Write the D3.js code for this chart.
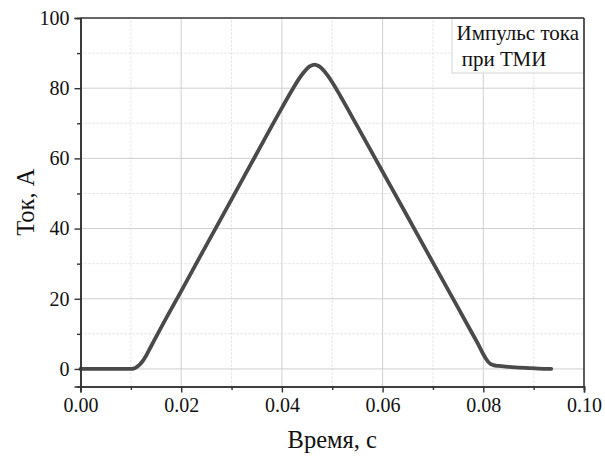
<!DOCTYPE html>
<html>
<head>
<meta charset="utf-8">
<script src="https://cdn.jsdelivr.net/npm/d3@7"></script>
<style>
  html, body { margin: 0; padding: 0; background: #fff; }
</style>
</head>
<body>
<svg id="chart" width="605" height="468"></svg>
<script>
// Current pulse: time (s) and current (A)
const timeValues = [0, 0.002, 0.004, 0.006, 0.008, 0.010, 0.0105, 0.011, 0.0115, 0.012, 0.013, 0.014,
  0.016, 0.020, 0.025, 0.030, 0.035, 0.040, 0.042, 0.043, 0.044, 0.045, 0.0455, 0.046, 0.0465,
  0.047, 0.0475, 0.048, 0.049, 0.050, 0.051, 0.052, 0.055, 0.060, 0.065, 0.070, 0.075, 0.078, 0.079,
  0.080, 0.0805, 0.081, 0.0815, 0.082, 0.083, 0.085, 0.087, 0.089, 0.091, 0.0935];
const currentValues = [0, 0, 0, 0, 0, 0, 0.1, 0.4, 0.9, 1.6, 3.7, 6.4,
  11.8, 22.2, 35.3, 48.3, 61.4, 74.4, 79.4, 81.8, 83.9, 85.6, 86.2, 86.55, 86.7,
  86.5, 86.15, 85.5, 83.8, 81.7, 79.3, 76.8, 69.1, 56.2, 43.3, 30.3, 17.4, 9.6, 7.0,
  4.2, 3.0, 2.0, 1.4, 1.1, 0.85, 0.6, 0.4, 0.25, 0.12, 0.05];

const xTicks = [0, 0.02, 0.04, 0.06, 0.08, 0.10];
const xMinorTicks = [0.01, 0.03, 0.05, 0.07, 0.09];
const yTicks = [0, 20, 40, 60, 80, 100];
const yMinorTicks = [10, 30, 50, 70, 90];
const legendLines = ["Импульс тока", " при ТМИ"];
const xTitle = "Время, с";
const yTitle = "Ток, А";

const FONT = "'Liberation Serif', 'Times New Roman', Times, serif";

const svg = d3.select("#chart");
const margin = { left: 80.5, top: 18, right: 21, bottom: 81.5 };
const W = 605, H = 468;

const x = d3.scaleLinear().domain([0, 0.10]).range([margin.left, W - margin.right]);
const y = d3.scaleLinear().domain([-5, 100]).range([H - margin.bottom, margin.top]);

const [x0, x1] = x.range();
const [yb, yt] = y.range();

// grid: minor dotted, major solid
const grid = svg.append("g");
grid.selectAll(".gxm").data(xMinorTicks).join("line")
  .attr("x1", d => x(d)).attr("x2", d => x(d)).attr("y1", yb).attr("y2", yt)
  .attr("stroke", "#dedede").attr("stroke-width", 1).attr("stroke-dasharray", "2,2");
grid.selectAll(".gym").data(yMinorTicks).join("line")
  .attr("y1", d => y(d)).attr("y2", d => y(d)).attr("x1", x0).attr("x2", x1)
  .attr("stroke", "#dedede").attr("stroke-width", 1).attr("stroke-dasharray", "2,2");
grid.selectAll(".gx").data(xTicks.slice(1, -1)).join("line")
  .attr("x1", d => x(d)).attr("x2", d => x(d)).attr("y1", yb).attr("y2", yt)
  .attr("stroke", "#cfcfcf").attr("stroke-width", 1);
grid.selectAll(".gy").data(yTicks.slice(0, -1)).join("line")
  .attr("y1", d => y(d)).attr("y2", d => y(d)).attr("x1", x0).attr("x2", x1)
  .attr("stroke", "#cfcfcf").attr("stroke-width", 1);

// legend box
const legend = svg.append("g");
legend.append("rect")
  .attr("x", 452).attr("y", yt).attr("width", x1 - 452).attr("height", 55)
  .attr("fill", "#fff").attr("stroke", "#d4d4d4").attr("stroke-width", 1);
legend.selectAll("text").data(legendLines).join("text")
  .attr("x", 456.5)
  .attr("y", (d, i) => 40 + i * 26)
  .style("font-family", FONT)
  .style("font-size", "21px")
  .style("white-space", "pre")
  .attr("fill", "#111")
  .text(d => d);

// data curve
const pts = timeValues.map((t, i) => [t, currentValues[i]]);
svg.append("path")
  .datum(pts)
  .attr("fill", "none")
  .attr("stroke", "#4a4a4a")
  .attr("stroke-width", 3.8)
  .attr("stroke-linejoin", "round")
  .attr("stroke-linecap", "round")
  .attr("d", d3.line().x(d => x(d[0])).y(d => y(d[1])).curve(d3.curveMonotoneX));

// frame: top and right borders
svg.append("line").attr("x1", x0).attr("x2", x1).attr("y1", yt).attr("y2", yt)
  .attr("stroke", "#333").attr("stroke-width", 1.6);
svg.append("line").attr("x1", x1).attr("x2", x1).attr("y1", yt).attr("y2", yb)
  .attr("stroke", "#333").attr("stroke-width", 1.6);

// axes
const xAxis = d3.axisBottom(x).tickValues(xTicks).tickFormat(d3.format(".2f")).tickSize(6).tickPadding(5);
const xMinor = d3.axisBottom(x).tickValues(xMinorTicks).tickFormat("").tickSize(3.5);
const yAxis = d3.axisLeft(y).tickValues(yTicks).tickFormat(d3.format("d")).tickSize(6).tickPadding(5);
const yMinor = d3.axisLeft(y).tickValues(yMinorTicks).tickFormat("").tickSize(3.5);

function styleAxis(g) {
  g.attr("font-family", null).attr("font-size", null);
  g.select(".domain").attr("stroke", "#333").attr("stroke-width", 1.6);
  g.selectAll(".tick line").attr("stroke", "#333").attr("stroke-width", 1.4);
  g.selectAll(".tick text")
    .style("font-family", FONT)
    .style("font-size", "20px")
    .attr("fill", "#111");
}

svg.append("g").attr("transform", `translate(0,${yb})`).call(xMinor).call(styleAxis);
svg.append("g").attr("transform", `translate(0,${yb})`).call(xAxis).call(styleAxis);
svg.append("g").attr("transform", `translate(${x0},0)`).call(yMinor).call(styleAxis);
svg.append("g").attr("transform", `translate(${x0},0)`).call(yAxis).call(styleAxis);

// axis titles
svg.append("text")
  .attr("x", (x0 + x1) / 2).attr("y", 448)
  .attr("text-anchor", "middle")
  .style("font-family", FONT).style("font-size", "24.5px")
  .attr("fill", "#111")
  .text(xTitle);
svg.append("text")
  .attr("transform", `translate(34,${(yb + yt) / 2}) rotate(-90)`)
  .attr("text-anchor", "middle")
  .style("font-family", FONT).style("font-size", "24.5px")
  .attr("fill", "#111")
  .text(yTitle);
</script>
</body>
</html>
